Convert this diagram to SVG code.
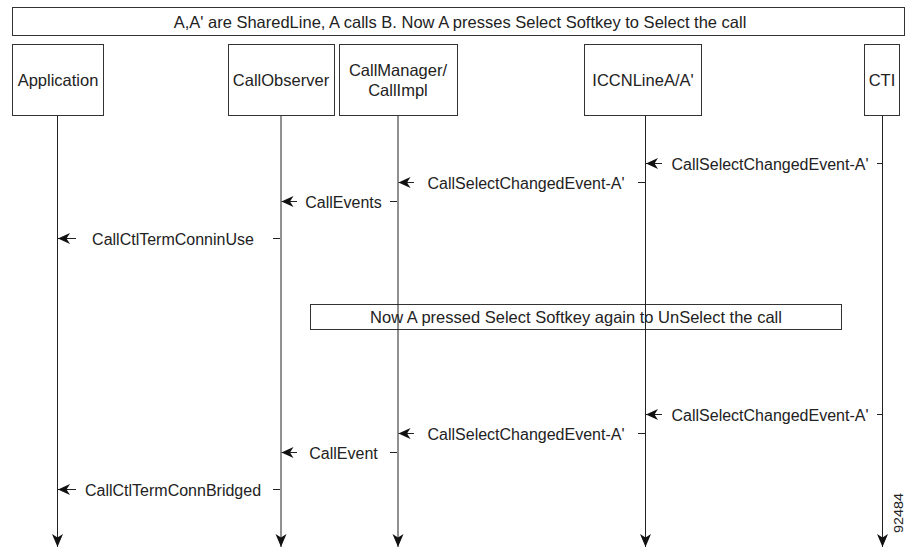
<svg xmlns="http://www.w3.org/2000/svg" width="907" height="548" viewBox="0 0 907 548">
  <style>
    .box { fill: #ffffff; stroke: #333333; stroke-width: 1; }
    .life { stroke: #222222; stroke-width: 1; fill: none; }
    .msg { stroke: #222222; stroke-width: 1; fill: none; }
    text { font-family: "Liberation Sans", Arial, Helvetica, sans-serif; fill: #222222; }
    .lbl { font-size: 16.5px; text-anchor: middle; }
    .mtx { font-size: 16px; text-anchor: middle; }
  </style>
  <defs>
    <!-- barbed arrowhead for message arrows -->
    <marker id="head" viewBox="0 -6 12 12" refX="12" refY="0" markerWidth="12" markerHeight="12" markerUnits="userSpaceOnUse" orient="auto">
      <path d="M12,0 L0,-5.5 L3.5,0 L0,5.5 Z" fill="#111111"/>
    </marker>
    <!-- larger arrowhead for lifeline ends -->
    <marker id="end" viewBox="0 -6 13 12" refX="13" refY="0" markerWidth="13" markerHeight="12" markerUnits="userSpaceOnUse" orient="auto">
      <path d="M13,0 L0,-5.5 L3.5,0 L0,5.5 Z" fill="#111111"/>
    </marker>
  </defs>

  <rect width="907" height="548" fill="#ffffff"/>

  <!-- banner notes -->
  <g id="note-top">
    <rect class="box" x="12.5" y="7.5" width="892" height="28"/>
    <text class="lbl" x="460" y="28">A,A' are SharedLine, A calls B. Now A presses Select Softkey to Select the call</text>
  </g>
  <g id="note-middle">
    <rect class="box" x="310.5" y="304.5" width="531" height="25"/>
    <text class="lbl" x="576" y="323">Now A pressed Select Softkey again to UnSelect the call</text>
  </g>

  <!-- participants -->
  <g id="application">
    <rect class="box" x="12.5" y="44.5" width="91" height="71"/>
    <text class="lbl" x="58" y="86">Application</text>
  </g>
  <g id="callobserver">
    <rect class="box" x="228.5" y="44.5" width="106" height="71"/>
    <text class="lbl" x="281" y="86">CallObserver</text>
  </g>
  <g id="callmanager">
    <rect class="box" x="339.5" y="44.5" width="118" height="71"/>
    <text class="lbl" x="398" y="76">CallManager/</text>
    <text class="lbl" x="398" y="96">CallImpl</text>
  </g>
  <g id="iccnline">
    <rect class="box" x="584.5" y="44.5" width="117" height="71"/>
    <text class="lbl" x="643" y="86">ICCNLineA/A'</text>
  </g>
  <g id="cti">
    <rect class="box" x="864.5" y="44.5" width="35" height="71"/>
    <text class="lbl" x="882" y="86">CTI</text>
  </g>

  <!-- lifelines and messages -->
  <g id="connectors">
    <line class="life" x1="57.5" y1="116" x2="57.5" y2="547" marker-end="url(#end)"/>
    <line class="life" x1="281" y1="116" x2="281" y2="547" marker-end="url(#end)"/>
    <line class="life" x1="398" y1="116" x2="398" y2="547" marker-end="url(#end)"/>
    <line class="life" x1="645.5" y1="116" x2="645.5" y2="547" marker-end="url(#end)"/>
    <line class="life" x1="882.5" y1="116" x2="882.5" y2="547" marker-end="url(#end)"/>

    <!-- select -->
    <line class="msg" x1="662" y1="163.5" x2="646" y2="163.5" marker-end="url(#head)"/>
    <line class="msg" x1="877" y1="163.5" x2="882" y2="163.5"/>
    <line class="msg" x1="414" y1="182.5" x2="398.5" y2="182.5" marker-end="url(#head)"/>
    <line class="msg" x1="638" y1="182.5" x2="645" y2="182.5"/>
    <line class="msg" x1="297" y1="201.5" x2="281.5" y2="201.5" marker-end="url(#head)"/>
    <line class="msg" x1="390" y1="201.5" x2="397" y2="201.5"/>
    <line class="msg" x1="76" y1="238.5" x2="58" y2="238.5" marker-end="url(#head)"/>
    <line class="msg" x1="273" y1="238.5" x2="280" y2="238.5"/>

    <!-- unselect -->
    <line class="msg" x1="662" y1="414.5" x2="646" y2="414.5" marker-end="url(#head)"/>
    <line class="msg" x1="877" y1="414.5" x2="882" y2="414.5"/>
    <line class="msg" x1="414" y1="433.5" x2="398.5" y2="433.5" marker-end="url(#head)"/>
    <line class="msg" x1="638" y1="433.5" x2="645" y2="433.5"/>
    <line class="msg" x1="297" y1="452.5" x2="281.5" y2="452.5" marker-end="url(#head)"/>
    <line class="msg" x1="390" y1="452.5" x2="397" y2="452.5"/>
    <line class="msg" x1="76" y1="489.5" x2="58" y2="489.5" marker-end="url(#head)"/>
    <line class="msg" x1="273" y1="489.5" x2="280" y2="489.5"/>
  </g>

  <g id="message-labels">
    <text class="mtx" x="770" y="169.5">CallSelectChangedEvent-A'</text>
    <text class="mtx" x="526" y="188.5">CallSelectChangedEvent-A'</text>
    <text class="mtx" x="343.5" y="207.5">CallEvents</text>
    <text class="mtx" x="173" y="244.5">CallCtlTermConninUse</text>
    <text class="mtx" x="770" y="420.5">CallSelectChangedEvent-A'</text>
    <text class="mtx" x="526" y="439.5">CallSelectChangedEvent-A'</text>
    <text class="mtx" x="343.5" y="458.5">CallEvent</text>
    <text class="mtx" x="173" y="495.5">CallCtlTermConnBridged</text>
  </g>

  <text x="903" y="533" font-size="12" textLength="40" lengthAdjust="spacingAndGlyphs" transform="rotate(-90 903 533)">92484</text>
</svg>
